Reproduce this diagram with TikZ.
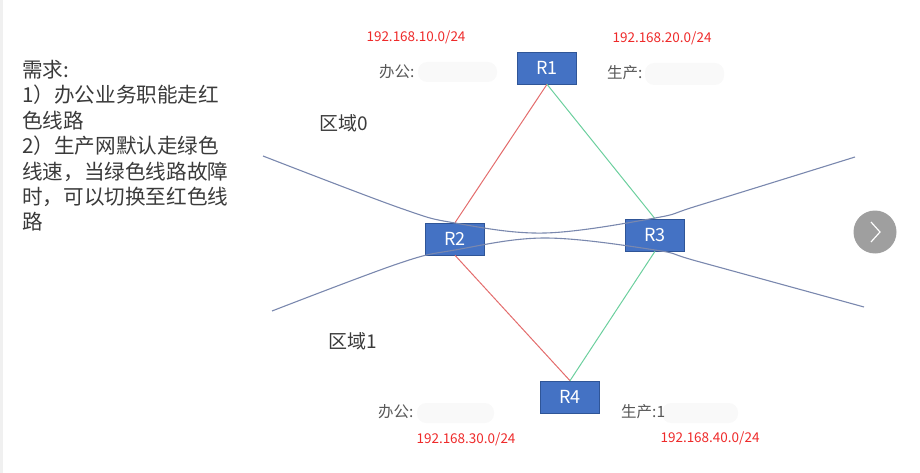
\documentclass[tikz,border=0pt]{standalone}
\usepackage{fontspec}
\setmainfont{Noto Sans CJK SC}
\newfontfamily\cjk{Noto Sans CJK SC}
\definecolor{boxblue}{HTML}{4472C4}
\definecolor{boxedge}{HTML}{2F5597}
\definecolor{redline}{HTML}{E36C6C}
\definecolor{greenline}{HTML}{6CCF9E}
\definecolor{zoneline}{HTML}{7A88AE}
\definecolor{iptext}{HTML}{EE2A2A}
\definecolor{bodytext}{HTML}{3A3A3A}
\tikzset{
  router/.style={draw=boxedge, fill=boxblue, text=white, minimum width=59pt, minimum height=32pt, inner sep=0pt, font=\fontsize{18}{18}\selectfont, line width=0.6pt},
  iplabel/.style={text=iptext, font=\fontsize{13.5}{14}\selectfont, inner sep=0pt},
  netlabel/.style={text=bodytext!85, font=\fontsize{15.5}{16}\selectfont, inner sep=0pt, anchor=west},
  blur/.style={fill=gray!5, draw=none, rounded corners=9pt},
  zonelabel/.style={text=bodytext, font=\fontsize{19}{20}\selectfont, inner sep=0pt},
  redlink/.style={draw=redline, line width=1pt},
  greenlink/.style={draw=greenline, line width=1pt},
  zone/.style={draw=zoneline, line width=1.1pt},
}
\begin{document}
\begin{tikzpicture}[x=1pt, y=-1pt]
\useasboundingbox (0,0) rectangle (920,473);
\fill[gray!12] (0,0) rectangle (3,473);

% requirement text
\node[anchor=north west, align=left, text=bodytext, inner sep=0pt,
  font=\fontsize{20.6}{25.4}\selectfont] (req) at (22,60)
  {需求:\\1）办公业务职能走红\\色线路\\2）生产网默认走绿色\\线速，当绿色线路故障\\时，可以切换至红色线\\路};

% routers
\node[router] (R1) at (547,68) {R1};
\node[router] (R2) at (455,239) {R2};
\node[router] (R3) at (655,235) {R3};
\node[router] (R4) at (570,397) {R4};

% links
\draw[redlink] (R1.south) -- (R2.north);
\draw[greenlink] (R1.south) -- (R3.north);
\draw[redlink] (R2.south) -- (R4.north);
\draw[greenlink] (R3.south) -- (R4.north);

% zone boundaries
\draw[zone] plot[smooth, tension=0.6] coordinates {(263,156) (400,208) (455,223) (545,233) (655,218) (700,205) (855,157)};
\draw[zone] plot[smooth, tension=0.6] coordinates {(272,311) (400,263) (455,250) (545,238) (655,250) (700,262) (864,307)};

% zone labels
\node[zonelabel] (z0) at (344,123) {区域0};
\node[zonelabel] (z1) at (353,341) {区域1};

% blurred address parts
\path[blur] (418,62) rectangle (497,82);
\path[blur] (645,63) rectangle (724,85);
\path[blur] (417,403) rectangle (494,423);
\path[blur] (662,403) rectangle (738,423);

% network labels
\node[netlabel] (n1) at (379,72) {办公:};
\node[netlabel] (n2) at (607,73) {生产:};
\node[netlabel] (n3) at (378,412) {办公:};
\node[netlabel] (n4) at (621,412) {生产:1};

% IP labels
\node[iplabel] (ip1) at (416,37) {192.168.10.0/24};
\node[iplabel] (ip2) at (662,38) {192.168.20.0/24};
\node[iplabel] (ip3) at (466,439) {192.168.30.0/24};
\node[iplabel] (ip4) at (710,438) {192.168.40.0/24};

% next button
\node[circle, fill=gray!75, minimum size=43pt, inner sep=0pt] (next) at (875,232) {};
\draw[white, line width=1.2pt] ([shift={(-4,-10)}]next.center) -- ([shift={(5,0)}]next.center) -- ([shift={(-4,10)}]next.center);
\end{tikzpicture}
\end{document}
